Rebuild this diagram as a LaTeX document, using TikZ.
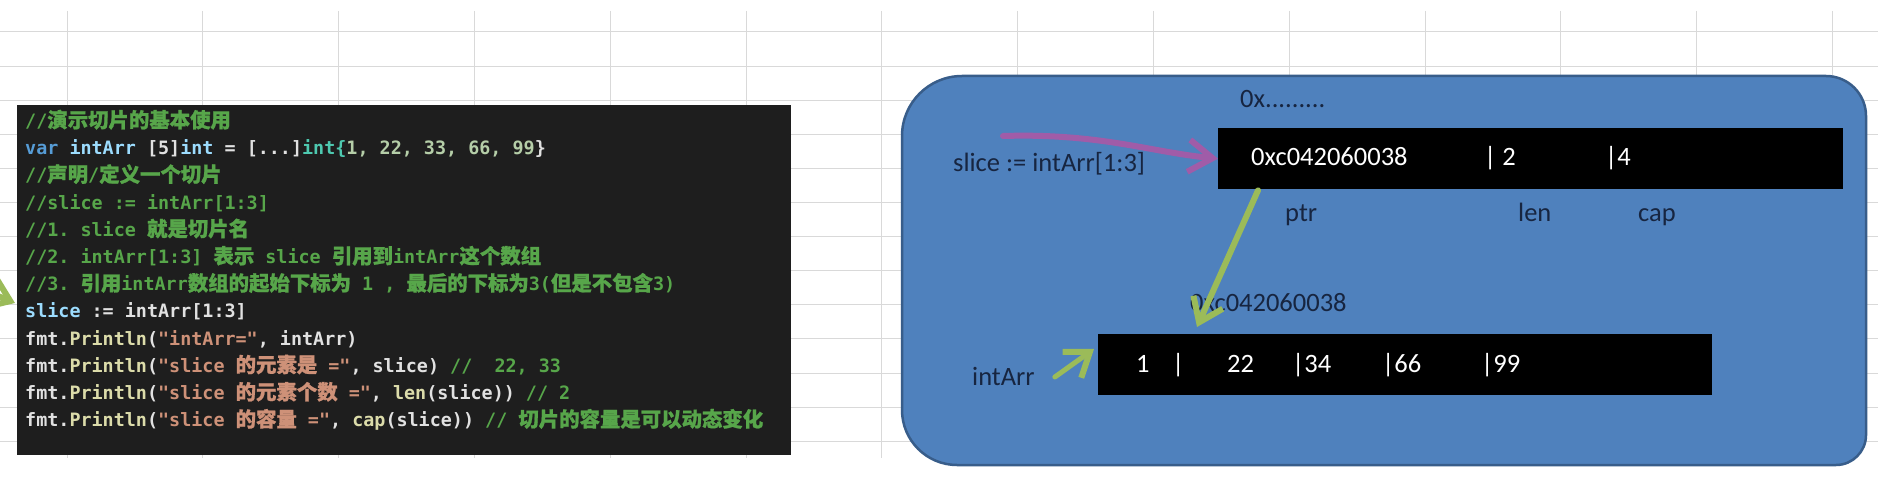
\documentclass[tikz,border=0pt]{standalone}
\usepackage{fontspec}
\setmonofont{DejaVu Sans Mono}
\newfontfamily\cjkf[FakeBold=1]{Noto Sans CJK SC}
\newfontfamily\calf{Carlito}
\usetikzlibrary{arrows.meta,calc}
\definecolor{gridc}{RGB}{217,217,217}
\definecolor{codebg}{RGB}{30,30,30}
\definecolor{cmt}{RGB}{87,166,74}
\definecolor{kw}{RGB}{86,156,214}
\definecolor{vname}{RGB}{156,220,254}
\definecolor{plain}{RGB}{225,225,225}
\definecolor{typ}{RGB}{78,201,176}
\definecolor{numc}{RGB}{181,206,168}
\definecolor{fnc}{RGB}{220,220,170}
\definecolor{strc}{RGB}{206,145,120}
\definecolor{panelfill}{RGB}{79,129,189}
\definecolor{paneldraw}{RGB}{56,93,138}
\definecolor{lblc}{RGB}{23,37,64}
\definecolor{magc}{RGB}{160,92,168}
\definecolor{grnc}{RGB}{155,187,89}
\newcommand\zh[1]{{\cjkf\fontsize{20.4}{22}\selectfont #1}}
\newcommand\xc[1]{\textcolor{cmt}{#1}}
\newcommand\xk[1]{\textcolor{kw}{#1}}
\newcommand\xv[1]{\textcolor{vname}{#1}}
\newcommand\xp[1]{\textcolor{plain}{#1}}
\newcommand\xt[1]{\textcolor{typ}{#1}}
\newcommand\xn[1]{\textcolor{numc}{#1}}
\newcommand\xf[1]{\textcolor{fnc}{#1}}
\newcommand\xs[1]{\textcolor{strc}{#1}}
\tikzset{
  gridline/.style={draw=gridc, line width=1pt},
  codeline/.style={anchor=base west, inner sep=0pt, text=plain,
    font=\ttfamily\bfseries\fontsize{18.4}{22}\selectfont},
  lbl/.style={anchor=base west, inner sep=0pt, text=lblc,
    font=\calf\fontsize{26.5}{30}\selectfont},
  wlbl/.style={lbl, text=white},
  blackbar/.style={fill=black, draw=none, anchor=north west, inner sep=0pt},
  marrow/.style={draw=magc, line width=6pt, line cap=round,
    -{Straight Barb[length=24pt,width=32pt,line width=6pt]}},
  garrow/.style={draw=grnc, line width=6pt, line cap=round,
    -{Straight Barb[length=22pt,width=32pt,line width=6pt]}}
}
\begin{document}
\begin{tikzpicture}[x=1pt,y=-1pt]
\useasboundingbox (0,0) rectangle (1878,486);
\fill[white] (0,0) rectangle (1878,486);
% spreadsheet grid
\foreach \i in {0,...,13} \draw[gridline] ({67+135.8*\i},11) -- ({67+135.8*\i},458);
\foreach \j in {0,...,12} \draw[gridline] (0,{32+34.1*\j}) -- (1878,{32+34.1*\j});
% code panel
\node[fill=codebg, anchor=north west, inner sep=0pt, minimum width=774pt, minimum height=350pt] (code) at (17,105) {};
\node[codeline] (l1) at (25,127.5) {\xc{//\zh{演示切片的基本使用}}};
\node[codeline] (l2) at (25,154.7) {\xk{var} \xv{intArr} \xp{[5]}\xv{int} \xp{= [...]}\xt{int\{}\xn{1, 22, 33, 66, 99}\xp{\}}};
\node[codeline] (l3) at (25,181.9) {\xc{//\zh{声明}/\zh{定义一个切片}}};
\node[codeline] (l4) at (25,209.1) {\xc{//slice := intArr[1:3]}};
\node[codeline] (l5) at (25,236.3) {\xc{//1. slice \zh{就是切片名}}};
\node[codeline] (l6) at (25,263.5) {\xc{//2. intArr[1:3] \zh{表示} slice \zh{引用到}intArr\zh{这个数组}}};
\node[codeline] (l7) at (25,290.7) {\xc{//3. \zh{引用}intArr\zh{数组的起始下标为} 1 , \zh{最后的下标为}3(\zh{但是不包含}3)}};
\node[codeline] (l8) at (25,317.9) {\xv{slice} \xp{:= intArr[1:3]}};
\node[codeline] (l9) at (25,345.1) {\xp{fmt.}\xf{Println}\xp{(}\xs{"intArr="}\xp{, intArr)}};
\node[codeline] (l10) at (25,372.3) {\xp{fmt.}\xf{Println}\xp{(}\xs{"slice \zh{的元素是} ="}\xp{, slice)} \xc{//\ \ 22, 33}};
\node[codeline] (l11) at (25,399.5) {\xp{fmt.}\xf{Println}\xp{(}\xs{"slice \zh{的元素个数} ="}\xp{, }\xf{len}\xp{(slice))} \xc{// 2}};
\node[codeline] (l12) at (25,426.7) {\xp{fmt.}\xf{Println}\xp{(}\xs{"slice \zh{的容量} ="}\xp{, }\xf{cap}\xp{(slice))} \xc{// \zh{切片的容量是可以动态变化}}};
% arrow at left edge pointing to the slice line
\coordinate (lgS) at (-60,272);
\draw[garrow] (lgS) -- ($(code.north west)+(-2,198)$);
% right panel
\draw[fill=panelfill, draw=paneldraw, line width=2.5pt]
  (902,250) [rounded corners=60pt]-- (902,76) [rounded corners=40pt]-- (1866,76)
  [rounded corners=30pt]-- (1866,465) [rounded corners=55pt]-- (902,465) -- cycle;
\node[blackbar, minimum width=625pt, minimum height=61pt] (topbar) at (1218,128) {};
\node[blackbar, minimum width=614pt, minimum height=61pt] (arrbar) at (1098,334) {};
% labels
\node[lbl] (addr) at (1240,108) {0x.........};
\node[lbl] (slicelbl) at (953,172) {slice := intArr[1:3]};
\node[wlbl] (ptrv) at (1251,166) {0xc042060038};
\node[wlbl] (lenv) at (1484,166) {| 2};
\node[wlbl] (capv) at (1605,166) {|4};
\node[lbl] (ptrl) at (1285,222) {ptr};
\node[lbl] (lenl) at (1518,222) {len};
\node[lbl] (capl) at (1638,222) {cap};
\node[lbl] (addr2) at (1190,311) {0xc042060038};
\node[wlbl] (e1) at (1136,372) {1};
\node[wlbl] (s1) at (1172,372) {|};
\node[wlbl] (e2) at (1227,372) {22};
\node[wlbl] (e3) at (1292,372) {|34};
\node[wlbl] (e4) at (1382,372) {|66};
\node[wlbl] (e5) at (1481,372) {|99};
\node[lbl] (arrl) at (972,385) {intArr};
% connectors
\coordinate (magS) at (1003,136);
\draw[marrow] (magS) .. controls (1100,133) and (1150,152) .. (topbar.west);
\draw[garrow] ($(topbar.south west)+(40,1)$) -- ($(arrbar.north west)+(99,-7)$);
\draw[garrow, line width=5pt] ($(arrl.base east)+(20,-8)$) -- ($(arrbar.north west)+(-4,15)$);
\end{tikzpicture}
\end{document}
